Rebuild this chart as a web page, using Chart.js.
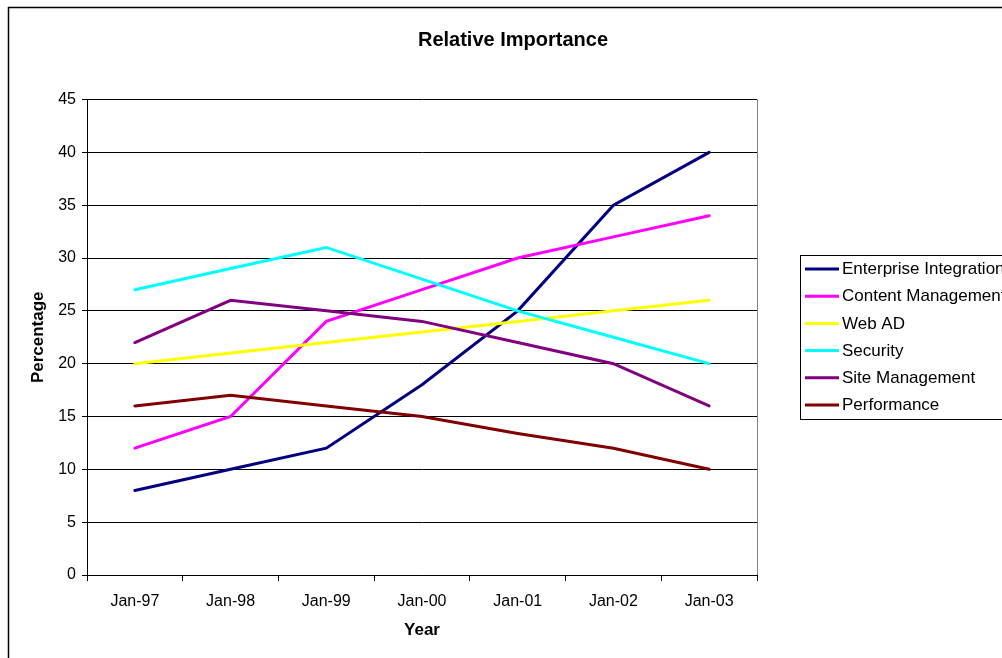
<!DOCTYPE html>
<html>
<head>
<meta charset="utf-8">
<script src="https://cdn.jsdelivr.net/npm/chart.js@4.4.1/dist/chart.umd.min.js"></script>
<style>
  html, body { margin: 0; padding: 0; background: #fff; overflow: hidden; }
  #wrap { width: 1018px; height: 658px; }
</style>
</head>
<body>
<div id="wrap"><canvas id="c" width="1018" height="658"></canvas></div>
<script>
const categories = ['Jan-97', 'Jan-98', 'Jan-99', 'Jan-00', 'Jan-01', 'Jan-02', 'Jan-03'];
const enterpriseIntegration = [8, 10, 12, 18, 25, 35, 40];
const contentManagement = [12, 15, 24, 27, 30, 32, 34];
const webAD = [20, 21, 22, 23, 24, 25, 26];
const security = [27, 29, 31, 28, 25, 22.5, 20];
const siteManagement = [22, 26, 25, 24, 22, 20, 16];
const performance = [16, 17, 16, 15, 13.4, 12, 10];
const seriesNames = ['Enterprise Integration', 'Content Management', 'Web AD', 'Security', 'Site Management', 'Performance'];
const seriesColors = ['#000080', '#FF00FF', '#FFFF00', '#00FFFF', '#800080', '#800000'];
const seriesValues = [enterpriseIntegration, contentManagement, webAD, security, siteManagement, performance];
const yMin = 0, yMax = 45, yStep = 5;

const FONT = "'Liberation Sans', Arial, sans-serif";

const frameAndLegend = {
  id: 'frameAndLegend',
  beforeDatasetsDraw(chart) {
    const {ctx, chartArea} = chart;
    ctx.save();
    ctx.strokeStyle = '#808080';
    ctx.lineWidth = 1;
    ctx.beginPath();
    const x = Math.round(chartArea.right) + 0.5;
    ctx.moveTo(x, chartArea.top);
    ctx.lineTo(x, chartArea.bottom);
    ctx.stroke();
    ctx.restore();
  },
  afterDraw(chart) {
    const {ctx} = chart;
    ctx.save();
    // outer chart border
    ctx.strokeStyle = '#000';
    ctx.lineWidth = 1.5;
    ctx.beginPath();
    ctx.moveTo(8.5, chart.height + 5);
    ctx.lineTo(8.5, 7.5);
    ctx.lineTo(chart.width + 5, 7.5);
    ctx.stroke();
    // legend box
    ctx.lineWidth = 1;
    ctx.strokeStyle = '#000';
    ctx.strokeRect(800.5, 255.5, 400, 164);
    ctx.font = '17px ' + FONT;
    ctx.textBaseline = 'middle';
    ctx.textAlign = 'left';
    chart.data.datasets.forEach((ds, i) => {
      const y = 269 + i * 27.2;
      ctx.strokeStyle = ds.borderColor;
      ctx.lineWidth = 3;
      ctx.beginPath();
      ctx.moveTo(805, y);
      ctx.lineTo(839, y);
      ctx.stroke();
      ctx.fillStyle = '#000';
      ctx.fillText(ds.label, 842, y + 0.5);
    });
    ctx.restore();
  }
};

new Chart(document.getElementById('c'), {
  type: 'line',
  data: {
    labels: categories,
    datasets: seriesValues.map((vals, i) => ({
      label: seriesNames[i],
      data: vals,
      borderColor: seriesColors[i],
      backgroundColor: seriesColors[i],
      borderWidth: 3,
      pointRadius: 0,
      pointHoverRadius: 0,
      tension: 0,
      fill: false,
      borderCapStyle: 'round',
      order: seriesValues.length - i
    }))
  },
  options: {
    responsive: false,
    animation: false,
    devicePixelRatio: 1,
    layout: { padding: { left: 8, top: 0, right: 0, bottom: 0 } },
    plugins: {
      legend: { display: false },
      tooltip: { enabled: false },
      title: {
        display: true,
        text: 'Relative Importance',
        color: '#000',
        font: { family: FONT, size: 20, weight: 'bold' },
        padding: { top: 28, bottom: 47.5 }
      }
    },
    scales: {
      x: {
        type: 'category',
        offset: true,
        grid: { display: true, drawOnChartArea: false, drawTicks: true, tickLength: 6, color: '#000', tickColor: '#000', offset: true },
        border: { display: true, color: '#000', width: 1 },
        ticks: { color: '#000', font: { family: FONT, size: 16 }, padding: 11, maxRotation: 0, autoSkip: false },
        title: { display: true, text: 'Year', color: '#000', font: { family: FONT, size: 17, weight: 'bold' }, padding: { top: 0, bottom: 17 } },
        afterFit(s) { s.height = 83; }
      },
      y: {
        min: yMin,
        max: yMax,
        grid: { color: '#000', tickColor: '#000', tickLength: 5, lineWidth: 1 },
        border: { display: true, color: '#000', width: 1 },
        ticks: { stepSize: yStep, color: '#000', font: { family: FONT, size: 16 }, padding: 6 },
        title: { display: true, text: 'Percentage', color: '#000', font: { family: FONT, size: 17, weight: 'bold' }, padding: { top: 20, bottom: 0 } },
        afterFit(s) { s.width = 79; }
      },
      spacer: {
        type: 'linear',
        position: 'right',
        display: true,
        grid: { display: false },
        border: { display: false },
        ticks: { display: false },
        afterFit(s) { s.width = 1018 - 757; }
      }
    }
  },
  plugins: [frameAndLegend]
});
</script>
</body>
</html>
